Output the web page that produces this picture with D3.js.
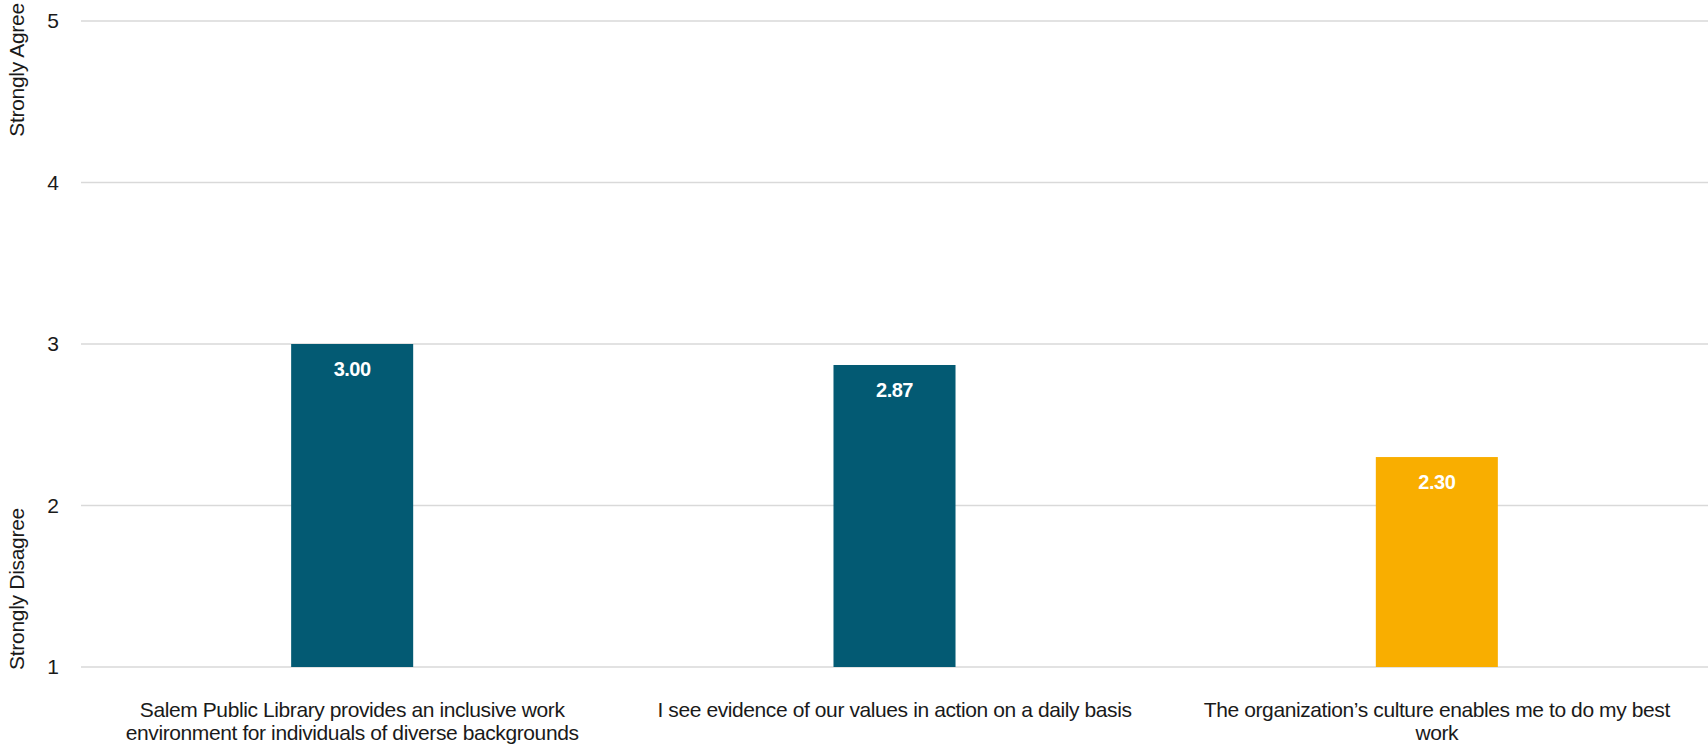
<!DOCTYPE html>
<html>
<head>
<meta charset="utf-8">
<script src="https://cdn.jsdelivr.net/npm/d3@7"></script>
<style>
  html, body { margin: 0; padding: 0; background: #fff; }
  svg { display: block; }
  text { font-family: "Liberation Sans", Arial, sans-serif; }
</style>
</head>
<body>
<svg id="chart" width="1708" height="745"></svg>
<script>
const categories = [
  "Salem Public Library provides an inclusive work environment for individuals of diverse backgrounds",
  "I see evidence of our values in action on a daily basis",
  "The organization\u2019s culture enables me to do my best work"
];
const categoryLabelLines = [
  ["Salem Public Library provides an inclusive work", "environment for individuals of diverse backgrounds"],
  ["I see evidence of our values in action on a daily basis"],
  ["The organization\u2019s culture enables me to do my best", "work"]
];
const values = [3.00, 2.87, 2.30];
const barColors = ["#035a73", "#035a73", "#f9ae00"];
const yTicks = [1, 2, 3, 4, 5];
const yTitles = [
  { text: "Strongly Agree", at: 5 },
  { text: "Strongly Disagree", at: 1 }
];

const W = 1708, H = 745;
const margin = { top: 21, right: 0, bottom: 78, left: 81 };
const svg = d3.select("#chart");

const x = d3.scaleBand()
  .domain(categories)
  .range([margin.left, W - margin.right])
  .paddingInner(0.775)
  .paddingOuter(0.3875);

const y = d3.scaleLinear()
  .domain([1, 5])
  .range([H - margin.bottom, margin.top]);

// gridlines
svg.append("g")
  .selectAll("line")
  .data(yTicks)
  .join("line")
  .attr("x1", margin.left)
  .attr("x2", W - margin.right)
  .attr("y1", d => y(d))
  .attr("y2", d => y(d))
  .attr("stroke", "#d9d9d9")
  .attr("stroke-width", 1.5);

// y tick labels
svg.append("g")
  .selectAll("text")
  .data(yTicks)
  .join("text")
  .attr("x", 59)
  .attr("y", d => y(d))
  .attr("dy", "0.35em")
  .attr("text-anchor", "end")
  .attr("font-size", 21)
  .attr("fill", "#1a1a1a")
  .text(d => d);

// y titles
svg.append("g")
  .selectAll("text")
  .data(yTitles)
  .join("text")
  .attr("transform", d => {
    const cy = d.at === 5 ? 70 : 589;
    return `translate(24,${cy}) rotate(-90)`;
  })
  .attr("text-anchor", "middle")
  .attr("font-size", 21)
  .attr("letter-spacing", -0.3)
  .attr("fill", "#1a1a1a")
  .text(d => d.text);

// bars
const data = categories.map((c, i) => ({ c, v: values[i], color: barColors[i], lines: categoryLabelLines[i] }));
svg.append("g")
  .selectAll("rect")
  .data(data)
  .join("rect")
  .attr("x", d => x(d.c))
  .attr("width", x.bandwidth())
  .attr("y", d => y(d.v))
  .attr("height", d => y(1) - y(d.v))
  .attr("fill", d => d.color);

// value labels
svg.append("g")
  .selectAll("text")
  .data(data)
  .join("text")
  .attr("x", d => x(d.c) + x.bandwidth() / 2)
  .attr("y", d => y(d.v) + 32)
  .attr("text-anchor", "middle")
  .attr("font-size", 20)
  .attr("font-weight", "bold")
  .attr("letter-spacing", -0.5)
  .attr("fill", "#fff")
  .text(d => d.v.toFixed(2));

// category labels
const labels = svg.append("g")
  .selectAll("text")
  .data(data)
  .join("text")
  .attr("y", y(1) + 50)
  .attr("text-anchor", "middle")
  .attr("font-size", 21)
  .attr("letter-spacing", -0.4)
  .attr("fill", "#1a1a1a");
labels.selectAll("tspan")
  .data(d => d.lines.map(l => ({ l, cx: x(d.c) + x.bandwidth() / 2 })))
  .join("tspan")
  .attr("x", d => d.cx)
  .attr("dy", (d, i) => i === 0 ? 0 : 23)
  .text(d => d.l);
</script>
</body>
</html>
